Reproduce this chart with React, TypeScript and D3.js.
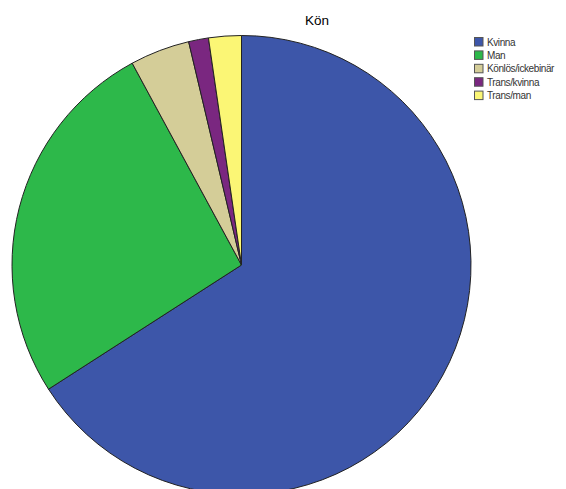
import React from "react";
import * as d3 from "d3";

const categories = ["Kvinna", "Man", "Könlös/ickebinär", "Trans/kvinna", "Trans/man"];
const values = [65.9, 26.2, 4.2, 1.4, 2.3];
const colors = ["#3d56a9", "#2db84a", "#d4cd98", "#7a2780", "#fbf675"];
const title = "Kön";

export default function App() {
  const W = 566, H = 489;
  const cx = 241.5, cy = 265, r = 229.5;
  const data = categories.map((c, i) => ({ c, v: values[i], col: colors[i] }));
  const pie = d3.pie<any>().sort(null).value((d: any) => d.v);
  const arc = d3.arc<any>().innerRadius(0).outerRadius(r);
  const arcs = pie(data);
  const legendY = d3.scaleLinear().domain([0, 1]).range([42, 55.4]);
  return (
    <svg width={W} height={H} style={{ position: "absolute", left: 0, top: 0, background: "#fff" }}>
      <text x={317} y={25} textAnchor="middle" fontFamily="Liberation Sans, Arial, sans-serif" fontSize={13.5} fill="#000">{title}</text>
      <g transform={`translate(${cx},${cy})`}>
        {arcs.map((a, i) => (
          <path key={i} d={arc(a) as string} fill={a.data.col} stroke="#222" strokeWidth={1} />
        ))}
      </g>
      {data.map((d, i) => (
        <g key={i}>
          <rect x={474.5} y={legendY(i) - 4.5} width={8.5} height={8.5} fill={d.col} stroke="#555" strokeWidth={1} />
          <text x={487} y={legendY(i) + 3.5} fontFamily="Liberation Sans, Arial, sans-serif" fontSize={10} letterSpacing={-0.4} fill="#333">{d.c}</text>
        </g>
      ))}
    </svg>
  );
}
